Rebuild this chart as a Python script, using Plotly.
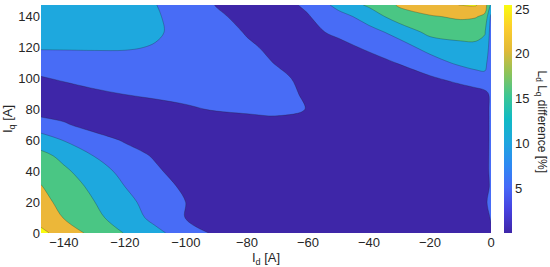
import plotly.graph_objects as go

# grid: Id (x) and Iq (y) in A, difference in %
id_vals = [-147.5, -140, -130, -120, -110, -100, -90, -80, -70, -60,
           -50, -40, -30, -20, -10, -5, -2, 0]
iq_vals = [0, 10, 20, 30, 40, 50, 60, 70, 80, 90, 100, 110, 120, 130, 140, 147.5]

diff_pct = [
    [26.3, 22.7, 18.6, 14.8, 11.2, 7.64, 4.1, 3.2, 2.6, 2.4, 2.3, 2.3, 2.4, 2.6, 3.0, 3.4, 3.7, 4.5],
    [22.8, 19.8, 16.25, 12.5, 8.65, 4.8, 3.6, 2.9, 2.5, 2.3, 2.2, 2.2, 2.3, 2.5, 2.9, 3.3, 3.6, 5.3],
    [21.4, 18.67, 15.07, 11.3, 8.0, 4.97, 3.5, 2.8, 2.4, 2.2, 2.1, 2.1, 2.2, 2.4, 2.8, 3.2, 3.5, 7.8],
    [20.2, 17.5, 13.85, 10.0, 7.06, 4.1, 3.2, 2.6, 2.3, 2.1, 2.0, 2.0, 2.1, 2.3, 2.6, 3.0, 3.4, 5.6],
    [18.6, 15.9, 12.1, 8.68, 5.74, 2.8, 2.4, 2.2, 2.0, 1.9, 1.8, 1.8, 1.9, 2.1, 2.4, 2.8, 3.3, 6.0],
    [16.5, 13.65, 9.86, 7.16, 4.46, 3.3, 2.6, 2.2, 1.9, 1.7, 1.6, 1.6, 1.7, 1.9, 2.2, 2.6, 3.2, 6.0],
    [12.2, 9.84, 7.18, 4.52, 3.5, 2.8, 2.3, 1.9, 1.6, 1.4, 1.3, 1.3, 1.4, 1.6, 1.9, 2.4, 3.0, 6.0],
    [7.4, 5.59, 3.0, 2.5, 2.2, 2.0, 1.8, 2.0, 2.5, 2.0, 1.3, 1.0, 1.0, 1.2, 1.6, 2.2, 2.9, 6.0],
    [2.6, 2.6, 2.7, 2.9, 3.4, 4.3, 5.4, 6.2, 6.8, 4.8, 3.0, 2.0, 1.6, 1.5, 1.7, 2.2, 3.0, 6.0],
    [2.4, 2.8, 4.2, 5.1, 5.8, 6.5, 7.0, 7.2, 6.6, 4.3, 2.8, 2.0, 1.7, 1.8, 2.3, 3.0, 3.8, 5.8],
    [4.6, 5.6, 6.6, 7.3, 7.8, 8.0, 8.0, 7.5, 6.0, 3.8, 2.5, 2.2, 2.8, 4.3, 6.6, 8.0, 8.8, 6.5],
    [7.6, 7.9, 8.3, 8.6, 8.7, 8.5, 8.0, 6.8, 4.7, 3.0, 2.6, 3.5, 5.2, 8.2, 10.8, 11.6, 11.3, 7.0],
    [10.4, 10.4, 10.4, 10.3, 9.8, 9.0, 8.0, 5.8, 3.8, 2.8, 3.8, 5.6, 8.3, 11.4, 13.8, 14.0, 13.5, 7.5],
    [12.0, 12.0, 11.8, 11.3, 10.4, 9.0, 7.3, 4.6, 3.2, 4.0, 5.8, 8.5, 11.5, 16.5, 16.6, 16.5, 15.3, 8.0],
    [12.8, 12.8, 12.5, 11.9, 10.3, 8.8, 5.8, 3.6, 2.9, 4.7, 8.2, 12.0, 17.8, 19.5, 20.8, 20.3, 19.0, 9.0],
    [13.0, 13.0, 12.8, 12.1, 10.1, 8.0, 4.8, 2.8, 3.3, 5.8, 11.6, 15.8, 20.6, 23.5, 25.1, 25.4, 22.5, 14.0],
]

levels = [5, 10, 15, 20, 25]
x_ticks = [-140, -120, -100, -80, -60, -40, -20, 0]
y_ticks = [0, 20, 40, 60, 80, 100, 120, 140]
cbar_ticks = [5, 10, 15, 20, 25]

# band colours (one per filled level band) and a parula-like bar
band_colors = ["rgb(62,38,168)", "rgb(72,108,246)", "rgb(30,168,222)",
               "rgb(74,198,132)", "rgb(236,183,57)", "rgb(249,251,14)"]
band_scale = [[i / 5, c] for i, c in enumerate(band_colors)]

parula = [
    [0.0, "rgb(62,38,168)"], [0.1, "rgb(70,64,222)"], [0.2, "rgb(70,104,248)"],
    [0.3, "rgb(45,138,242)"], [0.4, "rgb(30,166,222)"], [0.5, "rgb(16,186,196)"],
    [0.6, "rgb(60,198,148)"], [0.7, "rgb(140,195,90)"], [0.8, "rgb(225,185,55)"],
    [0.9, "rgb(252,205,45)"], [1.0, "rgb(249,251,14)"],
]

FONT = "Liberation Sans, Arial, sans-serif"
TXT = "#262626"
L, R, T, B = 41, 59, 5, 34
PW = 550 - L - R

fig = go.Figure()
fig.add_trace(go.Contour(
    x=id_vals, y=iq_vals, z=diff_pct,
    autocontour=False,
    contours=dict(start=levels[0], end=levels[-1], size=levels[1] - levels[0],
                  coloring="fill"),
    colorscale=band_scale,
    line=dict(color="rgba(30,30,30,0.55)", width=0.5, smoothing=1),
    showscale=False,
    hoverinfo="skip",
))

# invisible point only to carry the continuous colour bar
fig.add_trace(go.Scatter(
    x=[-500], y=[-500], mode="markers", showlegend=False, hoverinfo="skip",
    marker=dict(
        color=[0], colorscale=parula, cmin=0, cmax=25.45, showscale=True,
        opacity=0,
        colorbar=dict(
            x=(504 - L) / PW, xanchor="left", xpad=0,
            y=1, yanchor="top", ypad=0,
            thickness=8, thicknessmode="pixels",
            len=228, lenmode="pixels",
            outlinewidth=0, ticks="",
            tickvals=cbar_ticks,
            tickfont=dict(family=FONT, size=13, color=TXT),
        ),
    ),
))

fig.add_annotation(
    text="L<sub>d</sub> L<sub>q</sub> difference [%]",
    xref="paper", yref="paper", x=(541.5 - L) / PW, y=0.487,
    xanchor="center", yanchor="middle", textangle=90, showarrow=False,
    font=dict(family=FONT, size=12, color=TXT),
)

fig.update_layout(
    width=550, height=267,
    margin=dict(l=L, r=R, t=T, b=B, autoexpand=False),
    paper_bgcolor="white", plot_bgcolor="white",
    font=dict(family=FONT, size=13, color=TXT),
    xaxis=dict(
        range=[-147.5, 0], tickvals=x_ticks, ticks="",
        showgrid=False, zeroline=False, showline=False, automargin=False,
        title=dict(text="I<sub>d</sub> [A]", standoff=0,
                   font=dict(family=FONT, size=13, color=TXT)),
    ),
    yaxis=dict(
        range=[0, 147.5], tickvals=y_ticks, ticks="",
        showgrid=False, zeroline=False, showline=False, automargin=False,
        title=dict(text="I<sub>q</sub> [A]", standoff=4,
                   font=dict(family=FONT, size=13, color=TXT)),
    ),
)

# drop the browser's default page margin so the figure sits at (0, 0)
fig.write_html("out.html", config={"displayModeBar": False},
               post_script="document.body.style.margin='0';")
